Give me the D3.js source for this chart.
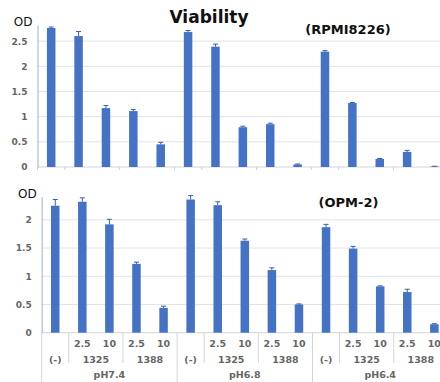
<!DOCTYPE html>
<html>
<head>
<meta charset="utf-8">
<script src="https://cdn.jsdelivr.net/npm/d3@7"></script>
<style>
  body { margin: 0; background: #fff; }
  svg { display: block; }
  text { font-family: "DejaVu Sans", sans-serif; }
</style>
</head>
<body>
<div id="chart"></div>
<script>
// concentrations, one per bar (5 bars per pH group)
const conc = ['', '2.5', '10', '2.5', '10'];
// treatments inside a pH group, with how many bars each covers
const drugs = ['(-)', '1325', '1388'];
const drugSpan = [1, 2, 2];
const phs = ['pH7.4', 'pH6.8', 'pH6.4'];

const yTicksTop = [0, 0.5, 1, 1.5, 2, 2.5];
const yTicksBottom = [0, 0.5, 1, 1.5, 2];

// RPMI8226 viability (OD) and error
const rpmi = [2.76, 2.60, 1.17, 1.11, 0.45, 2.68, 2.39, 0.79, 0.85, 0.05, 2.29, 1.27, 0.16, 0.30, 0.01];
const rpmiErr = [0.02, 0.09, 0.05, 0.03, 0.04, 0.03, 0.05, 0.02, 0.02, 0.01, 0.02, 0.01, 0.01, 0.03, 0.005];
// OPM-2 viability (OD) and error
const opm = [2.25, 2.32, 1.92, 1.22, 0.44, 2.36, 2.26, 1.63, 1.11, 0.50, 1.87, 1.49, 0.82, 0.72, 0.15];
const opmErr = [0.11, 0.07, 0.09, 0.03, 0.03, 0.07, 0.06, 0.03, 0.04, 0.01, 0.05, 0.04, 0.01, 0.05, 0.01];

const W = 440, H = 382;
const barColor = '#4472c4';
const errColor = '#3a5ea8';
const gridColor = '#e3e3e3';
const labelColor = '#666';
const barW = 8.5;

const svg = d3.select('#chart').append('svg')
  .attr('width', W)
  .attr('height', H);

// index of every bar
const idx = d3.range(rpmi.length);
// indices where a group (treatment) starts, plus the end
const bounds = [0];
phs.forEach((p, g) => {
  let k = g * conc.length;
  drugSpan.forEach(s => { k += s; bounds.push(k); });
});

function panel(vals, errs, xRange, yDom, yRange, ticks) {
  const x = d3.scaleBand().domain(idx).range(xRange).padding(0);
  const y = d3.scaleLinear().domain(yDom).range(yRange);
  const g = svg.append('g');

  // gridlines
  g.selectAll('.grid')
    .data(ticks.filter(t => t > 0))
    .enter().append('line')
    .attr('x1', xRange[0]).attr('x2', W)
    .attr('y1', d => y(d)).attr('y2', d => y(d))
    .attr('stroke', gridColor).attr('stroke-width', 1);

  // x axis base line
  g.append('line')
    .attr('x1', xRange[0]).attr('x2', W)
    .attr('y1', y(0)).attr('y2', y(0))
    .attr('stroke', '#d4d4d4').attr('stroke-width', 1);

  // y axis
  const yAxis = d3.axisLeft(y).tickValues(ticks).tickSize(0).tickPadding(10)
    .tickFormat(d => d3.format('~g')(d));
  const ya = g.append('g')
    .attr('transform', 'translate(' + xRange[0] + ',0)')
    .call(yAxis);
  ya.select('.domain').attr('stroke', '#a9bcdc').attr('stroke-width', 1.2);
  ya.selectAll('text')
    .attr('fill', labelColor)
    .attr('font-size', 9)
    .attr('font-weight', 'bold');

  // bars
  g.selectAll('.bar')
    .data(idx)
    .enter().append('rect')
    .attr('x', i => x(i) + x.bandwidth() / 2 - barW / 2)
    .attr('y', i => y(vals[i]))
    .attr('width', barW)
    .attr('height', i => y(0) - y(vals[i]))
    .attr('fill', barColor);

  // error bars (upper only)
  const eb = g.selectAll('.err')
    .data(idx)
    .enter().append('g')
    .attr('stroke', errColor).attr('stroke-width', 1);
  eb.append('line')
    .attr('x1', i => x(i) + x.bandwidth() / 2)
    .attr('x2', i => x(i) + x.bandwidth() / 2)
    .attr('y1', i => y(vals[i]))
    .attr('y2', i => y(vals[i] + errs[i]));
  eb.append('line')
    .attr('x1', i => x(i) + x.bandwidth() / 2 - 2.5)
    .attr('x2', i => x(i) + x.bandwidth() / 2 + 2.5)
    .attr('y1', i => y(vals[i] + errs[i]))
    .attr('y2', i => y(vals[i] + errs[i]));

  // OD label
  g.append('text')
    .attr('x', xRange[0] - 5)
    .attr('y', yRange[1])
    .attr('dy', '0.1em')
    .attr('text-anchor', 'end')
    .attr('font-size', 12)
    .attr('fill', '#111')
    .text('OD');

  return { x, y, g };
}

// top panel: RPMI8226
const upper = panel(rpmi, rpmiErr, [37.5, 37.5 + 27.38 * 15], [0, 2.82], [167, 25], yTicksTop);
const xt = upper.x;
const edgeT = k => k < idx.length ? xt(k) : xt.range()[1];
// small ticks at group boundaries
upper.g.selectAll('.xt')
  .data(bounds)
  .enter().append('line')
  .attr('x1', k => edgeT(k)).attr('x2', k => edgeT(k))
  .attr('y1', upper.y(0)).attr('y2', upper.y(0) + 3)
  .attr('stroke', '#cfcfcf');

// bottom panel: OPM-2
const lower = panel(opm, opmErr, [41.7, 41.7 + 27.08 * 15], [0, 2.41], [332.7, 196.7], yTicksBottom);
const xb = lower.x;
const edge = k => k < idx.length ? xb(k) : xb.range()[1];

// category table lines
lower.g.selectAll('.sep')
  .data(bounds)
  .enter().append('line')
  .attr('x1', k => edge(k)).attr('x2', k => edge(k))
  .attr('y1', lower.y(0))
  .attr('y2', k => (k % conc.length === 0) ? H : 363)
  .attr('stroke', '#d4d4d4');

// concentration row
lower.g.selectAll('.conc')
  .data(idx)
  .enter().append('text')
  .attr('x', i => xb(i) + xb.bandwidth() / 2)
  .attr('y', 346.8)
  .attr('text-anchor', 'middle')
  .attr('font-size', 9.5).attr('font-weight', 'bold')
  .attr('fill', labelColor)
  .text(i => conc[i % conc.length]);

// treatment row
const drugCells = [];
phs.forEach((p, g) => {
  let k = g * conc.length;
  drugs.forEach((d, j) => {
    drugCells.push({ name: d, start: k, span: drugSpan[j] });
    k += drugSpan[j];
  });
});
lower.g.selectAll('.drug')
  .data(drugCells)
  .enter().append('text')
  .attr('x', c => xb(c.start) + xb.bandwidth() * c.span / 2)
  .attr('y', 362.5)
  .attr('text-anchor', 'middle')
  .attr('font-size', 9.5).attr('font-weight', 'bold')
  .attr('fill', labelColor)
  .text(c => c.name);

// pH row
lower.g.selectAll('.ph')
  .data(phs)
  .enter().append('text')
  .attr('x', (p, g) => xb(g * conc.length) + xb.bandwidth() * conc.length / 2)
  .attr('y', 377.5)
  .attr('text-anchor', 'middle')
  .attr('font-size', 9.5).attr('font-weight', 'bold')
  .attr('fill', labelColor)
  .text(p => p);

// titles
svg.append('text')
  .attr('x', 209).attr('y', 22.5)
  .attr('text-anchor', 'middle')
  .attr('font-size', 17).attr('font-weight', 'bold')
  .attr('fill', '#111')
  .text('Viability');
svg.append('text')
  .attr('x', 348).attr('y', 33.5)
  .attr('text-anchor', 'middle')
  .attr('font-size', 13).attr('font-weight', 'bold')
  .attr('fill', '#111')
  .text('(RPMI8226)');
svg.append('text')
  .attr('x', 348.5).attr('y', 206.5)
  .attr('text-anchor', 'middle')
  .attr('font-size', 13).attr('font-weight', 'bold')
  .attr('fill', '#111')
  .text('(OPM-2)');
</script>
</body>
</html>
